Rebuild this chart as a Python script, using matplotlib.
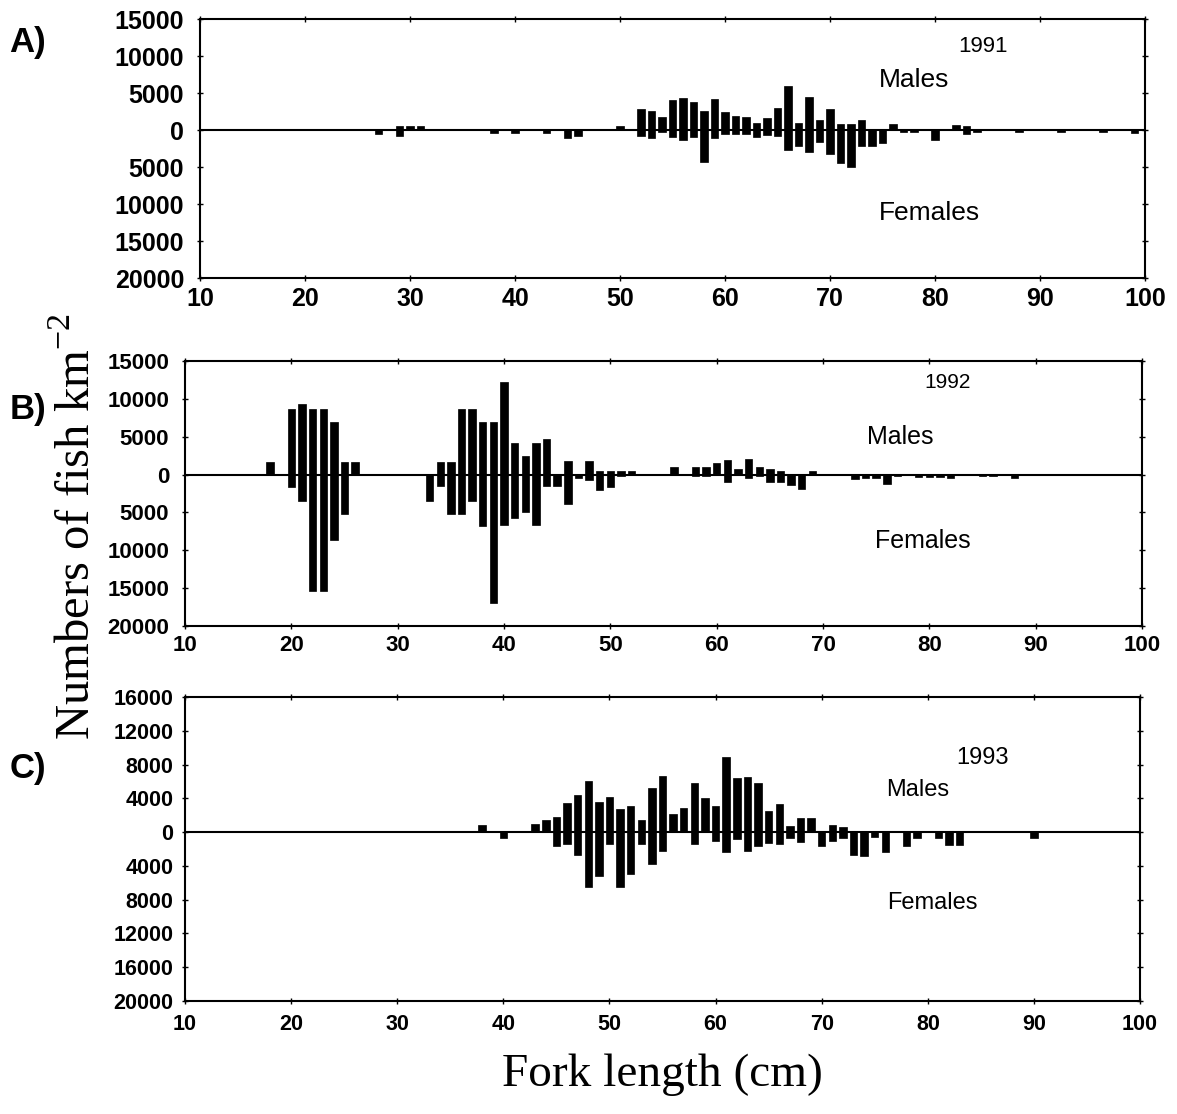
import numpy as np
import matplotlib.pyplot as plt
from matplotlib.ticker import FuncFormatter

# Length-frequency of males (up) and females (down), fish per km^2
len_1991 = [27, 29, 30, 31, 38, 40, 43, 45, 46, 50,
            52, 53, 54, 55, 56, 57, 58, 59, 60, 61, 62, 63, 64, 65, 66,
            67, 68, 69, 70, 71, 72, 73, 74, 75, 76, 77, 78, 80, 82, 83,
            84, 88, 92, 96, 99]
males_1991 = [0, 500, 500, 500, 0, 0, 0, 0, 0, 500,
              2900, 2600, 1700, 4000, 4300, 3800, 2600, 4200, 2400, 1900,
              1800, 1000, 1600, 3000, 5900, 900, 4400, 1300, 2900, 800,
              800, 1300, 100, 0, 800, 0, 0, 0, 700, 600,
              0, 0, 0, 0, 0]
females_1991 = [600, 800, 0, 0, 400, 400, 400, 1100, 800, 0,
                800, 1100, 300, 1000, 1300, 1000, 4300, 1100, 600, 600,
                600, 1000, 700, 800, 2700, 2100, 3000, 1600, 3300, 4500,
                5000, 2200, 2100, 1800, 0, 300, 300, 1300, 0, 600,
                300, 200, 200, 300, 400]

len_1992 = [18, 20, 21, 22, 23, 24, 25, 26, 33, 34, 35, 36, 37, 38, 39,
            40, 41, 42, 43, 44, 45, 46, 47, 48, 49, 50, 51, 52, 56, 58,
            59, 60, 61, 62, 63, 64, 65, 66, 67, 68, 69, 73, 74, 75, 76,
            77, 79, 80, 81, 82, 85, 86, 88]
males_1992 = [1700, 8600, 9300, 8600, 8600, 6900, 1700, 1700, 0, 1700,
              1700, 8600, 8600, 6900, 6900, 12200, 4200, 2500, 4200, 4700,
              0, 1800, 0, 1750, 500, 400, 400, 400, 950, 950,
              950, 1500, 1900, 700, 2100, 950, 700, 500, 0, 0,
              500, 0, 0, 0, 0, 0, 0, 0, 0, 0, 0, 0, 0]
females_1992 = [0, 1650, 3500, 15400, 15400, 8600, 5200, 0, 3500, 1500,
                5200, 5200, 3500, 6800, 17000, 6700, 5700, 5000, 6700, 1500,
                1500, 3900, 500, 700, 2100, 1650, 250, 0, 0, 250,
                250, 0, 950, 0, 500, 250, 950, 950, 1400, 1900,
                0, 600, 400, 500, 1300, 250, 300, 300, 300, 400, 250, 250, 500]

len_1993 = [38, 40, 43, 44, 45, 46, 47, 48, 49, 50, 51, 52, 53, 54, 55,
            56, 57, 58, 59, 60, 61, 62, 63, 64, 65, 66, 67, 68, 69, 70,
            71, 72, 73, 74, 75, 76, 78, 79, 81, 82, 83, 90]
males_1993 = [900, 0, 1000, 1450, 1800, 3500, 4400, 6050, 3550, 4200,
              2750, 3150, 1450, 5200, 6700, 2100, 2900, 5850, 4050, 3100,
              8900, 6400, 6500, 5800, 2550, 3350, 700, 1700, 1700, 0,
              800, 600, 0, 0, 0, 0, 0, 0, 0, 0, 0, 0]
females_1993 = [0, 700, 0, 0, 1650, 1400, 2750, 6500, 5250, 1400,
                6500, 5000, 1450, 3800, 2250, 0, 0, 1400, 0, 1050,
                2300, 800, 2200, 1600, 1300, 1400, 700, 1200, 0, 1600,
                1050, 700, 2700, 2800, 600, 2300, 1600, 700, 700, 1500,
                1500, 700]

plt.rcParams['font.family'] = ['Liberation Sans', 'DejaVu Sans']

fig = plt.figure(figsize=(11.77, 11.14), dpi=100)

panels = [
    # letter, year, lengths, males, females, axes rect, y range, y ticks,
    # tick label size, y label pad, x label pad
    ('A)', '1991', len_1991, males_1991, females_1991,
     [0.170, 0.7504, 0.8028, 0.2325], (-20000, 15000),
     np.arange(-20000, 15001, 5000), 18, 9, 4),
    ('B)', '1992', len_1992, males_1992, females_1992,
     [0.1572, 0.4381, 0.8131, 0.2379], (-20000, 15000),
     np.arange(-20000, 15001, 5000), 16, 9, 4),
    ('C)', '1993', len_1993, males_1993, females_1993,
     [0.1572, 0.1014, 0.8114, 0.2729], (-20000, 16000),
     np.arange(-20000, 16001, 4000), 15.5, 6, 7),
]

# (x, y, size) for year, Males, Females in each panel
text_pos = {
    '1991': [(0.835, 0.958, 16), (0.777, 0.928, 19), (0.790, 0.809, 19)],
    '1992': [(0.805, 0.657, 15), (0.765, 0.608, 18), (0.784, 0.514, 18)],
    '1993': [(0.835, 0.320, 17), (0.780, 0.291, 17), (0.792, 0.189, 17)],
}
letter_y = {'A)': 0.962, 'B)': 0.632, 'C)': 0.310}

for letter, year, lengths, males, females, rect, ylim, yticks, tsize, ypad, xpad in panels:
    ax = fig.add_axes(rect)
    x = np.array(lengths)
    ax.bar(x, males, width=0.7, color='black', edgecolor='black', linewidth=0.5)
    ax.bar(x, -np.array(females), width=0.7, color='black', edgecolor='black', linewidth=0.5)
    ax.axhline(0, color='black', linewidth=1.5)

    ax.set_xlim(10, 100)
    ax.set_ylim(*ylim)
    ax.set_xticks(np.arange(10, 101, 10))
    ax.set_yticks(yticks)
    ax.yaxis.set_major_formatter(FuncFormatter(lambda v, p: '%d' % abs(v)))
    ax.tick_params(direction='inout', length=5, width=1, top=True, right=True,
                   labelsize=tsize)
    ax.tick_params(axis='y', pad=ypad)
    ax.tick_params(axis='x', pad=xpad)
    for lab in ax.get_xticklabels() + ax.get_yticklabels():
        lab.set_fontweight('bold')
    for s in ax.spines.values():
        s.set_linewidth(1.5)

    labels = [year, 'Males', 'Females']
    for txt, (tx, ty, fs) in zip(labels, text_pos[year]):
        fig.text(tx, ty, txt, fontsize=fs, ha='center', va='center')
    fig.text(0.008, letter_y[letter], letter, fontsize=25, fontweight='bold',
             ha='left', va='center')

fig.text(0.066, 0.527, r'Numbers of fish km$^{\mathregular{-2}}$', rotation=90,
         fontsize=35, family='Liberation Serif', ha='center', va='center')
fig.text(0.5625, 0.035, 'Fork length (cm)', fontsize=34, family='Liberation Serif',
         ha='center', va='center')

fig.savefig('out.png', dpi=100)
